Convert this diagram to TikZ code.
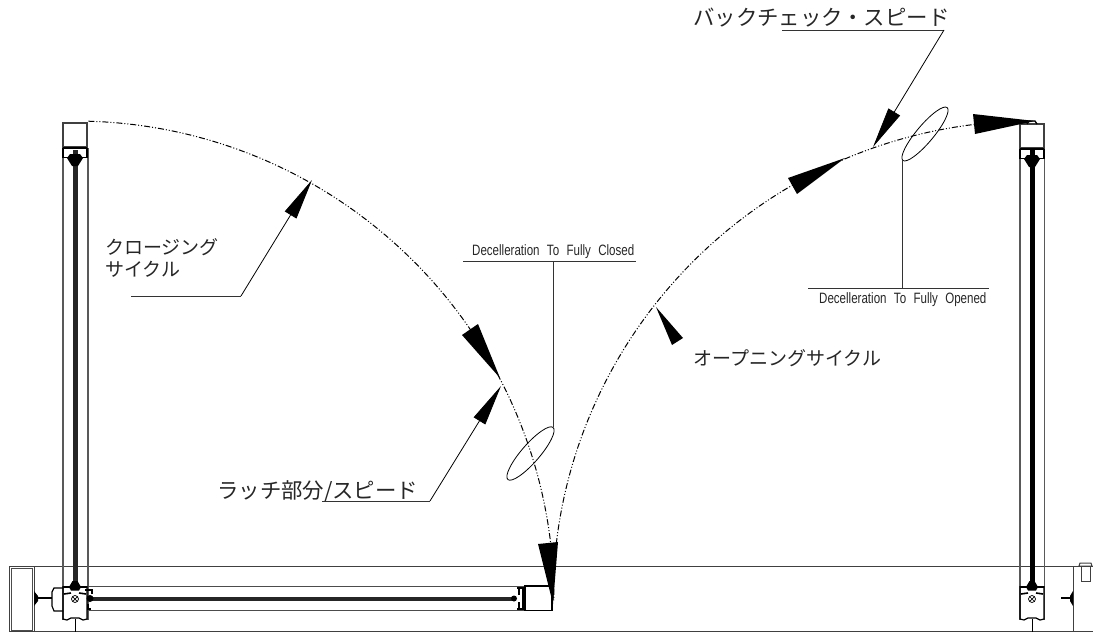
\documentclass[tikz,border=0pt]{standalone}
\usepackage{fontspec}
\newfontfamily\jpfont{Noto Sans CJK JP}
\newfontfamily\cadfont[FakeStretch=0.77,WordSpace=2.3]{Liberation Sans}
\usetikzlibrary{arrows.meta, positioning}

\tikzset{
    jplabel/.style={font={\jpfont\fontsize{19}{22}\selectfont}, inner sep=0pt, text=black!85, align=left},
    jpwide/.style={font={\jpfont\fontsize{21.4}{24}\selectfont}, inner sep=0pt, text=black!85},
    cadlabel/.style={font={\cadfont\fontsize{15}{18}\selectfont}, inner sep=0pt, text=black!85},
    cycleline/.style={line width=1pt, dash pattern=on 6pt off 2pt on 1pt off 2pt on 1pt off 2pt},
    leader/.style={line width=.8pt, -{Triangle[length=41pt,width=13.5pt]}},
    rule/.style={line width=.9pt, black!80},
    blackhead/.style={fill=black},
    wallline/.style={line width=1pt, black!75},
    railline/.style={line width=1.3pt, black!65},
    doorhead/.pic={
        \draw[line width=1.6pt, black!75] (-12,1) rectangle (12,25);
        \draw[line width=1.5pt] (-12,26) -- (12,26) (-12,26) -- (-12,36) (12,26) -- (12,36);
        \draw[line width=1.2pt] (-12,35.5) -- (-5,35.5) (5,35.5) -- (12,35.5);
        \fill (-8,36) -- (-5,32) -- (5,32) -- (8,36) -- (3,44) -- (-3,44) -- cycle;
    },
    doorfoot/.pic={
        \draw[line width=1.2pt] (-12,1) -- (-12,34) -- (-8,35) -- (-4,33) -- (4,33) -- (8,35) -- (12,34) -- (12,1);
        \draw[line width=1.6pt] (-12,2) -- (12,2) (-11,9) -- (-4,8) (4,8) -- (11,9);
        \draw[line width=.8pt] (0,34) -- (0,47);
        \draw[line width=.7pt] (0,14) circle (3.5) (-2.4,11.6) -- (2.4,16.4) (-2.4,16.4) -- (2.4,11.6);
        \fill (-6,2) -- (-2.5,-4) -- (2.5,-4) -- (6,2) -- (4,5.5) -- (-4,5.5) -- cycle;
    },
}

\begin{document}
\begin{tikzpicture}[x=1pt, y=-1pt]
    \useasboundingbox (0,0) rectangle (1093,632);

    % walls
    \draw[wallline] (9,566) -- (1073,566);
    \draw[wallline] (9,631.5) -- (1093,631.5);
    \draw[wallline] (9,566) rectangle (34,631.5);
    \draw[line width=.8pt, black!70] (11,568) rectangle (32,630);
    \draw[wallline] (1093,566) -- (1073,566) -- (1073,631.5);
    \draw[wallline] (1081,566) rectangle (1090,581);
    \draw[wallline] (1079,566) -- (1080,563) -- (1091,563) -- (1092,566) -- cycle;

    % fixed door leaf
    \draw[railline] (63,148) -- (63,620) (88,148) -- (88,620);
    \draw[line width=5pt, black!85] (75,150) -- (75,585);
    \pic at (75,122) {doorhead};
    \pic at (75,585) {doorfoot};
    \draw[line width=1.2pt] (63,588) -- (54,588) -- (52,592) -- (52,606) -- (54,611) -- (63,611);
    \draw[line width=1.2pt] (36,598) -- (52,598);
    \fill (34,591) -- (38,596) -- (38,601) -- (34,606) -- cycle;

    % open leaf at the right
    \draw[railline] (1020,148) -- (1020,620) (1044.5,148) -- (1044.5,620);
    \draw[line width=5pt, black] (1032,150) -- (1032,585);
    \pic at (1032,123) {doorhead};
    \pic at (1032,585) {doorfoot};
    \draw[line width=1.3pt] (1027,124) -- (1029,121) -- (1035,121) -- (1037,124);
    \draw[line width=1.2pt] (1061,598) -- (1071,598);
    \fill (1073,591) -- (1070,596) -- (1070,601) -- (1073,606) -- cycle;

    % closed leaf
    \draw[line width=1pt, black!70] (88,586) -- (525,586) (88,610.5) -- (525,610.5);
    \draw[line width=4pt, black!85] (90,598.5) -- (515,598.5);
    \fill (90,598.5) circle (3.5) (514,598.5) circle (3);
    \draw[line width=1.5pt] (85,590) -- (92,590) -- (92,594) (88,604) -- (88,609) -- (91,609);
    \draw[line width=1.2pt] (525,586) -- (552,586) -- (552,610.5) -- (525,610.5) -- cycle;
    \draw[line width=1.3pt] (517,588) -- (525,588) (517,609) -- (525,609) (519,589) -- (519,595) (519,602) -- (519,608) (523,588) -- (523,609);

    % swing paths
    \coordinate (hingeleft) at (75,600);
    \coordinate (hingeright) at (1032,600);
    \draw[cycleline] (hingeleft) ++(-88.4:479) arc[start angle=-88.4, end angle=0, radius=479];
    \draw[cycleline] (hingeright) ++(-180:479) arc[start angle=-180, end angle=-90, radius=479];

    % heads on the swing paths
    \fill[blackhead] (500,378) -- (462,335) -- (478,324) -- cycle;
    \fill[blackhead] (553,604) -- (538,544) -- (558,542) -- cycle;
    \fill[blackhead] (656,307) -- (683,338) -- (672,345) -- cycle;
    \fill[blackhead] (845,158) -- (788,178) -- (797,194) -- cycle;
    \fill[blackhead] (1035,121) -- (973,114) -- (975,134) -- cycle;

    % zones
    \draw[line width=.8pt] (530.5,453.5) ellipse[x radius=34.5, y radius=9, rotate=49];
    \draw[line width=.8pt] (925,134) ellipse[x radius=34.5, y radius=8.5, rotate=50];

    % labels
    \node[jplabel, anchor=north west] (closing) at (105,238) {クロージング\\サイクル};
    \node[jplabel, anchor=west] (opening) at (693,358) {オープニングサイクル};
    \node[jpwide, anchor=west] (latch) at (217,491) {ラッチ部分/スピード};
    \node[jpwide, anchor=west] (backcheck) at (693,18) {バックチェック・スピード};
    \node[cadlabel, anchor=west] (fullyclosed) at (472,252) {Decelleration To Fully Closed};
    \node[cadlabel, anchor=west] (fullyopened) at (819,300) {Decelleration To Fully Opened};

    % leaders
    \coordinate (closingstart) at (131,296);
    \coordinate (closingbend) at (241,296);
    \coordinate (closingtip) at (312,180);
    \draw[rule] (closingstart) -- (closingbend);
    \draw[leader] (closingbend) -- (closingtip);

    \coordinate (latchstart) at (322,501);
    \coordinate (latchbend) at (430,501);
    \coordinate (latchtip) at (501,386);
    \draw[rule] (latchstart) -- (latchbend);
    \draw[leader] (latchbend) -- (latchtip);

    \coordinate (backstart) at (782,30);
    \coordinate (backbend) at (944,30);
    \coordinate (backtip) at (873,147);
    \draw[rule] (backstart) -- (backbend);
    \draw[leader] (backbend) -- (backtip);

    \coordinate (closedleft) at (463,261);
    \coordinate (closedright) at (636,261);
    \coordinate (closedmid) at (553,261);
    \coordinate (closedzone) at (553,427);
    \draw[rule] (closedleft) -- (closedright);
    \draw[rule] (closedmid) -- (closedzone);

    \coordinate (openedleft) at (808,288);
    \coordinate (openedright) at (989,288);
    \coordinate (openedmid) at (902,288);
    \coordinate (openedzone) at (902,160);
    \draw[rule] (openedleft) -- (openedright);
    \draw[rule] (openedmid) -- (openedzone);
\end{tikzpicture}
\end{document}
